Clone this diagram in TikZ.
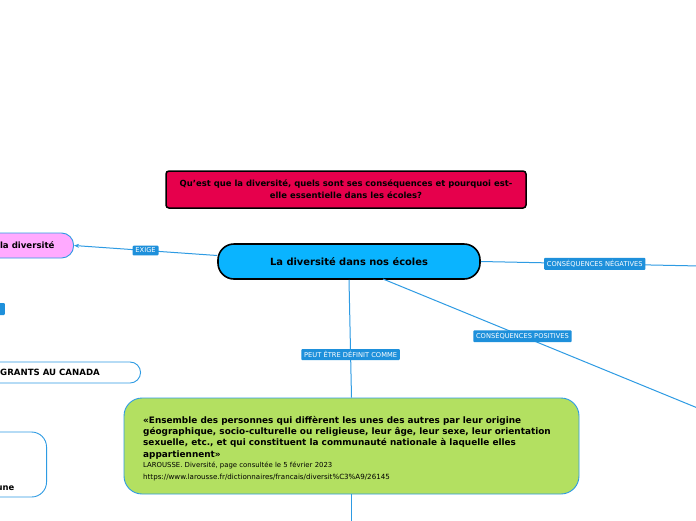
\documentclass[tikz,border=0pt]{standalone}
\usepackage{fontspec}
\setmainfont{DejaVu Sans}
\usetikzlibrary{arrows.meta}
\definecolor{qred}{HTML}{E6004C}
\definecolor{ccyan}{HTML}{0AB4FF}
\definecolor{ppink}{HTML}{FFAAFF}
\definecolor{ggreen}{HTML}{B3E061}
\definecolor{lblue}{HTML}{2E9BE3}
\definecolor{tagblue}{HTML}{1E90DB}
\tikzset{
  conn/.style={draw=lblue, line width=1pt},
  tag/.style={fill=tagblue, text=white, font=\fontsize{6.7}{8}\selectfont, inner xsep=2.8pt, inner ysep=2.4pt, rounded corners=1pt},
  qbox/.style={draw=black, line width=1.5pt, fill=qred, rounded corners=3pt, font=\fontsize{8.45}{12}\selectfont\bfseries, align=center, minimum width=360, minimum height=37, inner sep=0pt},
  cbox/.style={draw=black, line width=1.6pt, fill=ccyan, rounded corners=16pt, font=\fontsize{9.9}{12}\selectfont\bfseries, minimum width=262, minimum height=35, inner sep=0pt},
  pbox/.style={draw=lblue, line width=0.9pt, fill=ppink, rounded corners=12pt, font=\fontsize{8.6}{11}\selectfont\bfseries},
  wbox/.style={draw=lblue, line width=0.9pt, fill=white},
  gbox/.style={draw=lblue, line width=0.9pt, fill=ggreen, rounded corners=18pt, minimum width=455, minimum height=96, inner sep=0pt},
}
\begin{document}
\begin{tikzpicture}[x=1pt,y=-1pt]
\clip (0,0) rectangle (696,520);
\fill[white] (0,0) rectangle (696,520);

% question
\node[qbox] (q) at (346,189.5) {Qu'est que la diversité, quels sont ses conséquences et  pourquoi est-\\elle essentielle dans les écoles?};

% central
\node[cbox] (c) at (349,261.5) {La diversité dans nos écoles};

% pink (cut off on left)
\node[pbox, anchor=east, minimum height=25, text width=140, align=flush right, inner xsep=19pt, inner ysep=0pt] (p) at (74,245.5) {la diversité};

% small tag at left edge
\node[tag, anchor=east, minimum width=20, minimum height=12] (t1) at (5,309) {};

% immigrants box
\node[wbox, rounded corners=10.5pt, anchor=east, minimum width=220, minimum height=21, inner sep=0pt] (imm) at (141,372.5) {};
\node[anchor=east, font=\fontsize{8.6}{10}\selectfont\bfseries, inner sep=0pt] (immt) at (100,372.5) {GRANTS AU CANADA};

% bottom-left box
\node[wbox, rounded corners=15pt, anchor=east, minimum width=140, minimum height=65, inner sep=0pt] (bl) at (47,464.5) {};
\node[anchor=east, font=\fontsize{8.4}{9}\selectfont\bfseries, inner sep=0pt] (blt) at (14.5,488) {une};

% definition box
\node[gbox] (def) at (351.5,446) {};
\node[anchor=north west, inner sep=0pt, align=flush left, font=\fontsize{8.9}{11.3}\selectfont\bfseries] (deftext) at (143,416) {«Ensemble des personnes qui diffèrent les unes des autres par leur origine\\géographique, socio-culturelle ou religieuse, leur âge, leur sexe, leur orientation\\sexuelle, etc., et qui constituent la communauté nationale à laquelle elles\\appartiennent»\\[-1.5pt]{\fontsize{6.9}{12}\selectfont\mdseries LAROUSSE. Diversité, page consultée le 5 février 2023}\\[1.5pt]{\fontsize{7.1}{12}\selectfont\mdseries https://www.larousse.fr/dictionnaires/francais/diversit\%C3\%A9/26145}};

% off-frame ends
\coordinate (negend) at (700,266);
\coordinate (posend) at (700,409);
\coordinate (downend) at (351.5,525);
\coordinate (posstart) at (383,279);

% connectors
\draw[conn, -{Stealth[length=5pt,width=4pt]}] ([yshift=6pt]c.west) -- (p.east) node[tag, pos=0.5] {EXIGE};
\draw[conn] (c.south) -- (def.north) node[tag, pos=0.635] {PEUT ÊTRE DÉFINIT COMME};
\draw[conn] (def.south) -- (downend);
\draw[conn] (c.east) -- (negend) node[tag, pos=0.52] {CONSÉQUENCES NÉGATIVES};
\draw[conn] (posstart) -- (posend) node[tag, pos=0.44] {CONSÉQUENCES POSITIVES};
\end{tikzpicture}
\end{document}
